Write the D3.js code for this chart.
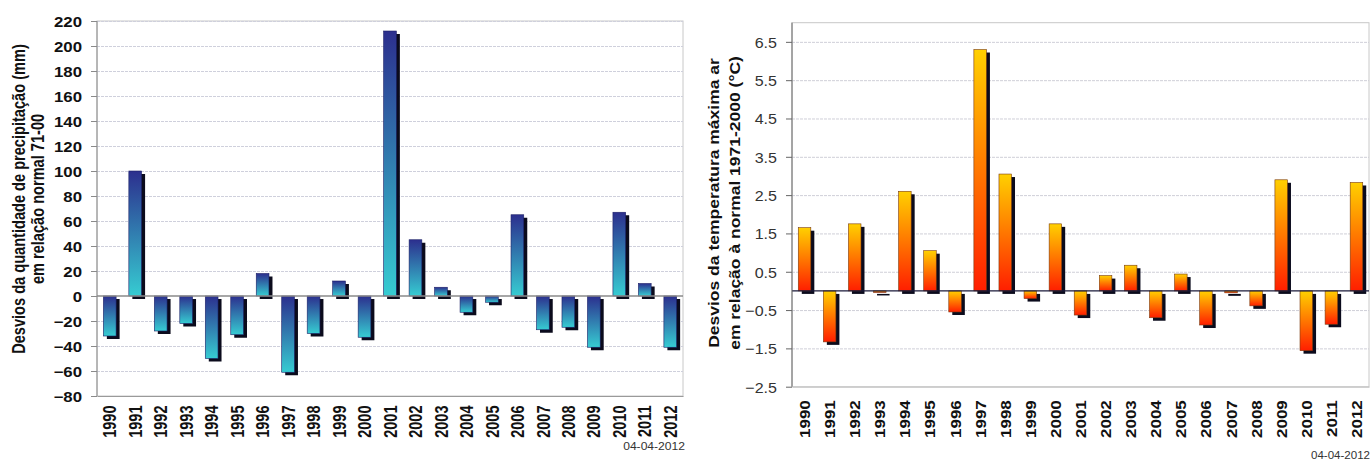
<!DOCTYPE html>
<html><head><meta charset="utf-8">
<script src="https://cdn.jsdelivr.net/npm/d3@7"></script>
<style>
html,body{margin:0;padding:0;background:#fff;}
svg{display:block;font-family:Arial,"Liberation Sans",sans-serif;}
</style></head>
<body><svg id="c" width="1372" height="461"></svg>
<script>
const years = ["1990","1991","1992","1993","1994","1995","1996","1997","1998","1999","2000","2001","2002","2003","2004","2005","2006","2007","2008","2009","2010","2011","2012"];
const precipValues = [-32,100,-28,-22,-50,-31,18,-61,-30,12,-33,212,45,7,-13,-5,65,-27,-25,-41,67,10,-41];
const tempValues = [1.65,-1.33,1.75,-0.04,2.6,1.05,-0.55,6.3,3.05,-0.2,1.75,-0.63,0.4,0.67,-0.7,0.44,-0.89,-0.05,-0.39,2.9,-1.56,-0.87,2.83];
const precipTicks = [-80,-60,-40,-20,0,20,40,60,80,100,120,140,160,180,200,220];
const tempTicks = [-2.5,-1.5,-0.5,0.5,1.5,2.5,3.5,4.5,5.5,6.5];
const precipTitle = ["Desvios da quantidade de precipitação (mm)","em relação normal 71-00"];
const tempTitle = ["Desvios da temperatura máxima ar","em relação à normal 1971-2000 (°C)"];
const dateLabel = "04-04-2012";

const FONT = "Arial,'Liberation Sans',sans-serif";
const svg = d3.select("#c");
const defs = svg.append("defs");
function grad(id, top, bottom){
  const g = defs.append("linearGradient").attr("id", id).attr("x1",0).attr("y1",0).attr("x2",0).attr("y2",1);
  g.append("stop").attr("offset","0%").attr("stop-color",top);
  g.append("stop").attr("offset","100%").attr("stop-color",bottom);
}
grad("gBlue","#2c2f8e","#36ccd2");
grad("gOrange","#ffd000","#ff1e00");

function chart(o){
  const x = d3.scaleBand().domain(years).range([o.left,o.right]).paddingInner(0.5).paddingOuter(0.25);
  const y = d3.scaleLinear().domain(o.domain).range([o.bottom,o.top]);
  const g = svg.append("g");
  g.append("rect").attr("x",o.left).attr("y",o.top).attr("width",o.right-o.left).attr("height",o.bottom-o.top)
    .attr("fill","#fff").attr("stroke","#c8c8c8").attr("stroke-width",1);
  g.append("g").selectAll("line").data(o.ticks.filter(t=>t!==0 && t!==o.domain[0])).join("line")
    .attr("x1",o.left).attr("x2",o.right).attr("y1",d=>y(d)+0.5).attr("y2",d=>y(d)+0.5)
    .attr("stroke",o.gridColor).attr("stroke-width",1).attr("stroke-dasharray","3,1");
  const w = x.bandwidth();
  g.append("g").selectAll("rect").data(o.values).join("rect")
    .attr("x",(d,i)=>x(years[i])+3.5).attr("y",d=>Math.min(y(d),y(0))+3)
    .attr("width",w).attr("height",d=>Math.max(1,Math.abs(y(d)-y(0))))
    .attr("fill","#0b0b1c");
  g.append("g").selectAll("rect").data(o.values).join("rect")
    .attr("x",(d,i)=>x(years[i])).attr("y",d=>Math.min(y(d),y(0)))
    .attr("width",w).attr("height",d=>Math.max(1,Math.abs(y(d)-y(0))))
    .attr("fill",`url(#${o.grad})`).attr("stroke",o.barStroke).attr("stroke-width",0.6);
  g.append("line").attr("x1",o.left).attr("x2",o.right).attr("y1",y(0)).attr("y2",y(0))
    .attr("stroke",o.zeroColor).attr("stroke-width",1.3);
  const ya = g.append("g").attr("transform",`translate(${o.left},0)`)
    .call(d3.axisLeft(y).tickValues(o.ticks).tickSize(6).tickSizeOuter(0).tickFormat(o.fmt));
  ya.select(".domain").attr("stroke",o.axisColor).attr("d",`M0,${o.top}V${o.bottom}`);
  ya.selectAll(".tick line").attr("stroke",o.axisColor);
  ya.selectAll(".tick text").attr("x",-o.ylabOff/o.ysx).attr("dy","0.36em")
    .attr("transform",`scale(${o.ysx},1)`)
    .attr("font-size",o.yfs).attr("font-weight",o.yfw).attr("fill",o.yfill)
    .attr("font-family",FONT);
  const xa = g.append("g").attr("transform",`translate(0,${o.bottom})`)
    .call(d3.axisBottom(x).tickSize(0));
  xa.select(".domain").attr("stroke",o.bottomColor);
  xa.selectAll(".tick text").attr("text-anchor","end").attr("x",0).attr("y",0).attr("dy","0.36em")
    .attr("transform",`translate(0,${o.xlabOff}) scale(${o.xsx},1) rotate(-90)`)
    .attr("font-size",o.xfs).attr("font-weight","bold").attr("fill","#111")
    .attr("font-family",FONT);
  o.title.forEach((t,i)=>{
    svg.append("text").attr("transform",`translate(${o.titleX[i]},${o.titleY}) scale(${o.tsx},1) rotate(-90)`)
      .attr("text-anchor","middle").attr("font-size",o.tfs).attr("font-weight","bold").attr("fill","#111")
      .attr("font-family",FONT).text(t);
  });
  svg.append("text").attr("transform",`translate(${o.dateX},${o.dateY}) scale(${o.dsx},1)`)
    .attr("text-anchor","end").attr("font-size",11).attr("fill","#333").attr("font-family",FONT).text(dateLabel);
}

chart({values:precipValues, ticks:precipTicks, domain:[-80,220], left:97, right:683, top:21, bottom:396,
  grad:"gBlue", barStroke:"#1c1f66", zeroColor:"#8a8a8a", axisColor:"#8a8a8a", bottomColor:"#9a9a9a",
  gridColor:"#cfd0dc", fmt:d3.format("d"), ylabOff:15, ysx:1.2, yfs:14, yfw:"bold", yfill:"#111",
  xlabOff:9.5, xsx:1.27, xfs:14.5, title:precipTitle, titleX:[25,44], titleY:199, tsx:1.2, tfs:14.6,
  dateX:685, dateY:450, dsx:1.1});

chart({values:tempValues, ticks:tempTicks, domain:[-2.5,7.0], left:792, right:1369, top:22.7, bottom:386.7,
  grad:"gOrange", barStroke:"#7a3a10", zeroColor:"#1a1a3a", axisColor:"#666", bottomColor:"#c0c0c0",
  gridColor:"#cfcfd8", fmt:d3.format(".1f"), ylabOff:15, ysx:1.07, yfs:15, yfw:"normal", yfill:"#333",
  xlabOff:13.5, xsx:0.9, xfs:17, title:tempTitle, titleX:[719,740], titleY:203, tsx:0.88, tfs:17.5,
  dateX:1370, dateY:459, dsx:1.05});
</script></body></html>
